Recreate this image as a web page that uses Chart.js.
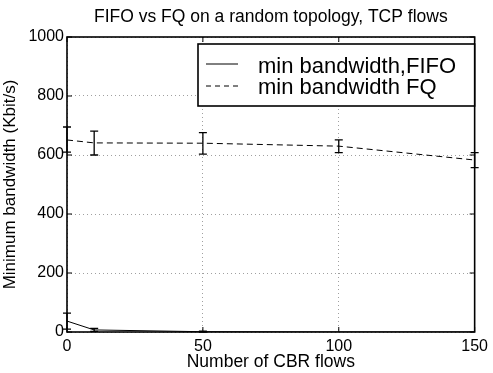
<!DOCTYPE html>
<html>
<head>
<meta charset="utf-8">
<script src="https://cdn.jsdelivr.net/npm/chart.js@4.4.0/dist/chart.umd.min.js"></script>
<style>
html,body{margin:0;padding:0;background:#fff;}
#wrap{width:493px;height:373px;position:relative;}
</style>
</head>
<body>
<div id="wrap"><canvas id="c" width="493" height="373"></canvas></div>
<script>
const FLOWS = [0, 10, 50, 100, 150];
const FIFO_MEAN = [37, 7, 1, 0, 0];
const FIFO_LOW = [10, 2, 0, 0, 0];
const FIFO_HIGH = [64, 12, 3, 1, 1];
const FQ_MEAN = [651, 641, 640, 630, 583];
const FQ_LOW = [610, 600, 603, 608, 557];
const FQ_HIGH = [695, 681, 676, 651, 608];
const X_TICKS = [0, 50, 100, 150];
const Y_TICKS = [0, 200, 400, 600, 800, 1000];
const LEGEND_LABELS = ["min bandwidth,FIFO", "min bandwidth FQ"];
const TITLE = "FIFO vs FQ on a random topology, TCP flows";

const FONT = "'Liberation Sans', Arial, Helvetica, sans-serif";

const pts = (ys) => FLOWS.map((x, i) => ({x: x, y: ys[i]}));

// title over the plot, error bars, inward ticks, frame and legend box
const decorPlugin = {
  id: "decor",
  afterDatasetsDraw(chart) {
    const ctx = chart.ctx, xs = chart.scales.x, ys = chart.scales.y, a = chart.chartArea;
    ctx.save();
    ctx.fillStyle = "#000";
    ctx.font = "17.5px " + FONT;
    ctx.textAlign = "center";
    ctx.textBaseline = "middle";
    ctx.fillText(TITLE, (a.left + a.right) / 2, 17);
    ctx.textAlign = "left";

    const bars = [[FIFO_LOW, FIFO_HIGH], [FQ_LOW, FQ_HIGH]];
    ctx.strokeStyle = "#000";
    ctx.lineWidth = 1.3;
    bars.forEach(([lo, hi]) => {
      FLOWS.forEach((f, i) => {
        if (hi[i] - lo[i] < 3) return;
        const px = xs.getPixelForValue(f), y1 = ys.getPixelForValue(lo[i]), y2 = ys.getPixelForValue(hi[i]);
        ctx.beginPath();
        ctx.moveTo(px, y1); ctx.lineTo(px, y2);
        ctx.moveTo(px - 4, y1); ctx.lineTo(px + 4, y1);
        ctx.moveTo(px - 4, y2); ctx.lineTo(px + 4, y2);
        ctx.stroke();
      });
    });
    // ticks pointing inward
    ctx.lineWidth = 1;
    ctx.beginPath();
    X_TICKS.forEach(v => {
      const px = xs.getPixelForValue(v);
      ctx.moveTo(px, a.bottom); ctx.lineTo(px, a.bottom - 5);
      ctx.moveTo(px, a.top); ctx.lineTo(px, a.top + 5);
    });
    Y_TICKS.forEach(v => {
      const py = ys.getPixelForValue(v);
      ctx.moveTo(a.left, py); ctx.lineTo(a.left + 5, py);
      ctx.moveTo(a.right, py); ctx.lineTo(a.right - 5, py);
    });
    ctx.stroke();
    ctx.lineWidth = 1.6;
    ctx.strokeRect(a.left, a.top, a.right - a.left, a.bottom - a.top);

    // legend
    const bx = 198, by = 44, bw = a.right - bx, bh = 62;
    ctx.fillStyle = "#fff";
    ctx.fillRect(bx, by, bw, bh);
    ctx.lineWidth = 1.6;
    ctx.strokeRect(bx, by, bw, bh);
    ctx.lineWidth = 1;
    ctx.beginPath();
    ctx.moveTo(206, 64); ctx.lineTo(238, 64);
    ctx.stroke();
    ctx.setLineDash([5, 4]);
    ctx.beginPath();
    ctx.moveTo(206, 86); ctx.lineTo(238, 86);
    ctx.stroke();
    ctx.setLineDash([]);
    ctx.fillStyle = "#000";
    ctx.font = "22px " + FONT;
    ctx.fillText(LEGEND_LABELS[0], 258, 67);
    ctx.fillText(LEGEND_LABELS[1], 258, 88);
    ctx.restore();
  }
};

new Chart(document.getElementById("c"), {
  type: "line",
  data: {
    datasets: [
      {label: LEGEND_LABELS[0], data: pts(FIFO_MEAN), borderColor: "#000", borderWidth: 1,
       pointRadius: 0, fill: false, tension: 0},
      {label: LEGEND_LABELS[1], data: pts(FQ_MEAN), borderColor: "#000", borderWidth: 1,
       borderDash: [6, 4], pointRadius: 0, fill: false, tension: 0},
    ],
  },
  options: {
    responsive: false, animation: false,
    layout: {padding: {left: 0, right: 15, top: 37, bottom: 0}},
    plugins: {
      legend: {display: false},
      tooltip: {enabled: false},
      title: {display: false},
    },
    scales: {
      x: {
        type: "linear", min: 0, max: 150,
        afterFit: s => { s.height = 41; },
        afterBuildTicks: s => { s.ticks = X_TICKS.map(v => ({value: v})); },
        ticks: {color: "#000", font: {family: FONT, size: 16}, padding: 5, maxRotation: 0,
                callback: v => String(v)},
        grid: {color: "#a0a0a0", drawTicks: false, lineWidth: 1},
        border: {display: false, dash: [1, 3]},
        title: {display: true, text: "Number of CBR flows", color: "#000",
                font: {family: FONT, size: 17.5}, padding: {top: 0, bottom: 0}},
      },
      y: {
        min: 0, max: 1000,
        afterFit: s => { s.width = 67; },
        afterBuildTicks: s => { s.ticks = Y_TICKS.map(v => ({value: v})); },
        ticks: {color: "#000", font: {family: FONT, size: 16}, padding: 3,
                callback: v => String(v)},
        grid: {color: "#a0a0a0", drawTicks: false, lineWidth: 1},
        border: {display: false, dash: [1, 3]},
        title: {display: true, text: "Minimum bandwidth (Kbit/s)", color: "#000",
                font: {family: FONT, size: 17}, padding: {top: 0, bottom: 0}},
      },
    },
  },
  plugins: [decorPlugin],
});
</script>
</body>
</html>
